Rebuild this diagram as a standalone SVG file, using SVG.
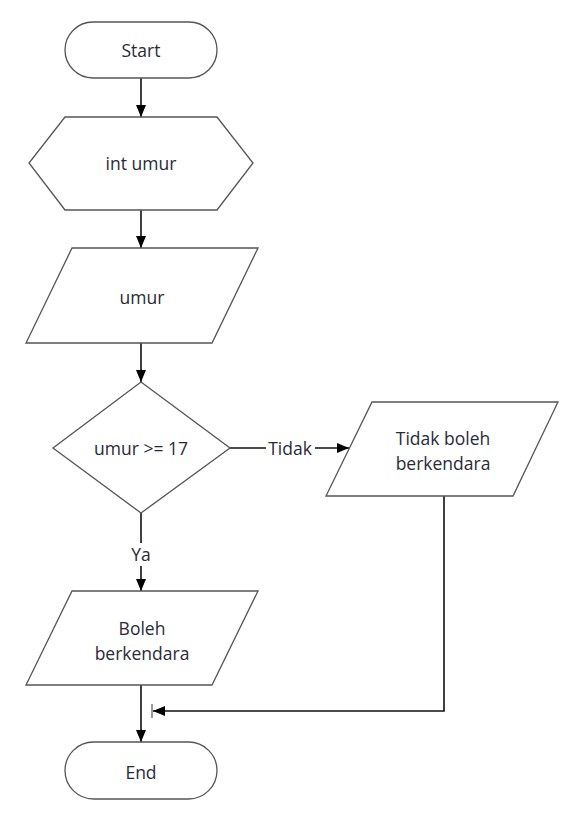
<svg xmlns="http://www.w3.org/2000/svg" width="571" height="817" viewBox="0 0 571 817">
<style>
.shape{fill:#fff;stroke:#555;stroke-width:1.3}
.t{font-family:"Open Sans","Liberation Sans",sans-serif;font-size:17.5px;fill:#2a2a38;text-anchor:middle;dominant-baseline:central}
.c{fill:none;stroke:#111;stroke-width:1.6}
</style>
<defs>
<marker id="ah" markerWidth="12" markerHeight="10" refX="12" refY="5" orient="auto" markerUnits="userSpaceOnUse">
<path d="M0,0 L12,5 L0,10 Z" fill="#000"/>
</marker>
</defs>
<rect width="571" height="817" fill="#fff"/>
<g id="connectors">
<line class="c" x1="141" y1="78" x2="141" y2="117" marker-end="url(#ah)"/>
<line class="c" x1="141" y1="210" x2="141" y2="248" marker-end="url(#ah)"/>
<line class="c" x1="141" y1="343" x2="141" y2="382" marker-end="url(#ah)"/>
<line class="c" x1="230" y1="448" x2="266" y2="448"/>
<line class="c" x1="315" y1="448" x2="349" y2="448" marker-end="url(#ah)"/>
<text class="t" x="290" y="448">Tidak</text>
<line class="c" x1="141" y1="513" x2="141" y2="543"/>
<text class="t" x="141" y="554">Ya</text>
<line class="c" x1="141" y1="566" x2="141" y2="591" marker-end="url(#ah)"/>
<line class="c" x1="141" y1="685" x2="141" y2="742" marker-end="url(#ah)"/>
<polyline class="c" points="444,496 444,711 153,711" marker-end="url(#ah)"/>
<line x1="152" y1="704" x2="152" y2="718" stroke="#555" stroke-width="1.2"/>
</g>
<g id="start">
<rect class="shape" x="65" y="22" width="152" height="56" rx="28" ry="28"/>
<text class="t" x="141" y="50">Start</text>
</g>
<g id="declare">
<polygon class="shape" points="65,117 217,117 253,163 217,210 65,210 29,163"/>
<text class="t" x="141" y="163">int umur</text>
</g>
<g id="input">
<polygon class="shape" points="72,248 258,248 212,343 26,343"/>
<text class="t" x="142" y="297">umur</text>
</g>
<g id="decision">
<polygon class="shape" points="141,382 230,448 141,513 53,448"/>
<text class="t" x="141" y="448">umur &gt;= 17</text>
</g>
<g id="output-tidak">
<polygon class="shape" points="372,402 558,402 513,496 326,496"/>
<text class="t" x="443" y="438">Tidak boleh</text>
<text class="t" x="443" y="463">berkendara</text>
</g>
<g id="output-boleh">
<polygon class="shape" points="72,591 258,591 212,685 26,685"/>
<text class="t" x="142" y="628">Boleh</text>
<text class="t" x="142" y="653">berkendara</text>
</g>
<g id="end">
<rect class="shape" x="65" y="742" width="152" height="57" rx="28.5" ry="28.5"/>
<text class="t" x="141" y="772">End</text>
</g>
</svg>
